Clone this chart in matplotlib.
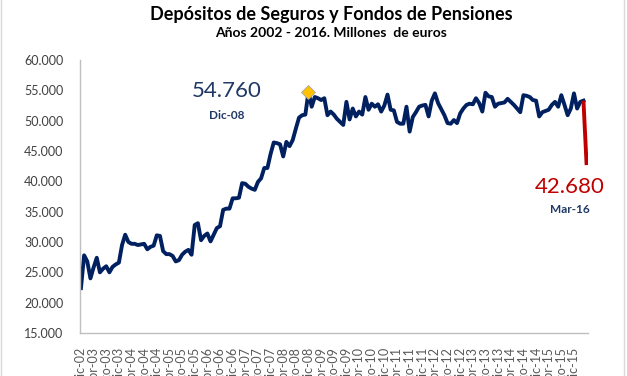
import matplotlib
matplotlib.use("Agg")
import matplotlib.pyplot as plt
from matplotlib.patches import Rectangle
from matplotlib.ticker import FuncFormatter

# Datos mensuales, dic-02 a mar-16 (millones de euros)
depositos = [
    22400, 27800, 26800, 24000, 25800, 27400, 25000, 25600, 26000, 25000,
    25900, 26300, 26600, 29500, 31200, 30000, 29700, 29700, 29500, 29600,
    29700, 28800, 29200, 29400, 31100, 31000, 28500, 28000, 28000, 27700,
    26800, 27000, 27900, 28400, 28700, 27900, 32800, 33100, 30300, 31000,
    31400, 30100, 31200, 32300, 32600, 35300, 35500, 35500, 37200, 37200,
    37300, 39700, 39600, 39100, 38800, 38600, 39900, 40500, 42200, 42200,
    44500, 46400, 46300, 46100, 44100, 46500, 45800, 46800, 48700, 50500,
    50900, 51000, 54760, 52300, 53900, 53700, 53400, 53700, 50900, 51500,
    51000, 50300, 49800, 49300, 53100, 50200, 52000, 50700, 51500, 51000,
    53900, 51800, 52800, 52300, 52700, 51500, 52500, 54300, 51800, 51700,
    49800, 49500, 49500, 52300, 48200, 50600, 51400, 52300, 52500, 52600,
    50700, 53300, 54500, 52900, 51900, 50900, 49600, 49500, 50100, 49600,
    51200, 52000, 52600, 52800, 52700, 53700, 52900, 51500, 54600, 54000,
    53900, 52300, 52800, 52900, 53000, 53600, 53100, 52600, 52000, 51400,
    54200, 54100, 53900, 53400, 53300, 50700, 51400, 51600, 51800, 52600,
    53100, 52300, 54200, 52600, 50900, 52000, 54500, 52000, 53100, 53300,
    42680,
]
meses = ["ene", "feb", "mar", "abr", "may", "jun",
         "jul", "ago", "sep", "oct", "nov", "dic"]
inicio_anio, inicio_mes = 2002, 11   # dic-02
idx_max = 72                          # Dic-08

NAVY = "#002060"
RED = "#C00000"
GREY = "#595959"

plt.rcParams["font.family"] = ["Lato", "DejaVu Sans"]

fig = plt.figure(figsize=(6.27, 3.76), dpi=100)
ax = fig.add_axes([0.1276, 0.1144, 0.810, 0.726])

n = len(depositos)
x = list(range(n))
ax.plot(x[:-1], depositos[:-1], color=NAVY, linewidth=2.8, solid_joinstyle="round")
ax.plot(x[-2:], depositos[-2:], color=RED, linewidth=2.8, solid_capstyle="butt")
ax.plot([idx_max], [depositos[idx_max]], marker="D", markersize=7,
        color="#FFC000", markeredgecolor="#A6A6A6", markeredgewidth=0.6)

# Ejes
ax.set_xlim(-0.3, n - 0.6)
ax.set_ylim(15000, 60000)
ax.set_yticks(range(15000, 60001, 5000))
ax.yaxis.set_major_formatter(FuncFormatter(lambda v, p: f"{int(v):,}".replace(",", ".")))

ticks = list(range(0, n - 3, 4))
etiquetas = []
for t in ticks:
    m = inicio_mes + t
    etiquetas.append(f"{meses[m % 12]}-{(inicio_anio + m // 12) % 100:02d}")
ax.set_xticks(ticks)
ax.set_xticklabels(etiquetas, rotation=90, fontsize=9, color=GREY)
ax.tick_params(axis="x", length=0, pad=10)
ax.tick_params(axis="y", length=0, pad=12, labelsize=9, labelcolor="#404040")

for s in ["top", "right"]:
    ax.spines[s].set_visible(False)
for s in ["left", "bottom"]:
    ax.spines[s].set_color("#BFBFBF")
    ax.spines[s].set_linewidth(1.0)

# Anotaciones
ax.text(46.2, 54900, "54.760", color="#1F3864", fontsize=16, ha="center", va="center")
ax.text(46.2, 50900, "Dic-08", color="#1F3864", fontsize=8.5, fontweight="bold",
        ha="center", va="center")
ax.text(154.7, 39100, "42.680", color=RED, fontsize=16, ha="center", va="center")
ax.text(154.7, 35300, "Mar-16", color="#1F3864", fontsize=8.5, fontweight="bold",
        ha="center", va="center")

# Títulos
fig.text(0.528, 0.962, "Depósitos de Seguros y Fondos de Pensiones",
         fontsize=13, fontweight="bold", color="black", ha="center", va="center")
fig.text(0.528, 0.911, "Años 2002 - 2016. Millones  de euros",
         fontsize=10, fontweight="bold", color="black", ha="center", va="center")

# Marco del gráfico
fig.patches.append(Rectangle((0.002, -0.05), 0.994, 1.1, transform=fig.transFigure,
                             fill=False, edgecolor="#D9D9D9", linewidth=1.0))

fig.savefig("out.png", dpi=100)
